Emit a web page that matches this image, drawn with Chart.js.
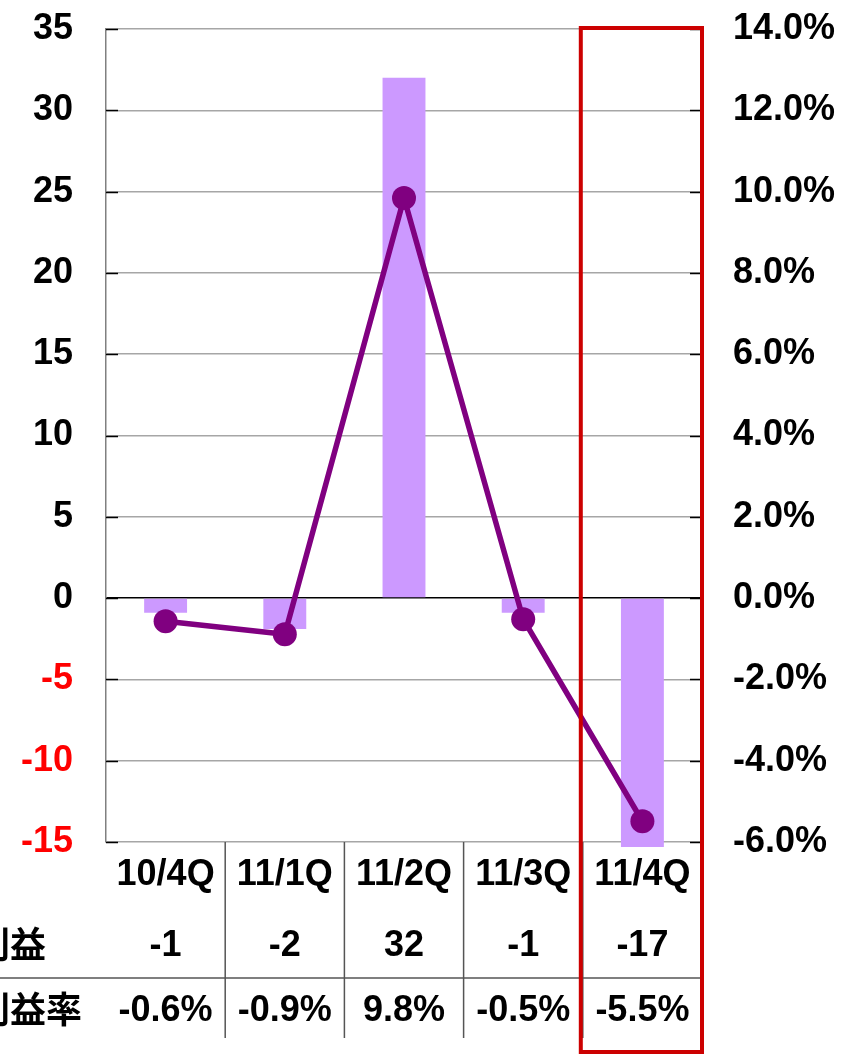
<!DOCTYPE html>
<html><head><meta charset="utf-8">
<script src="https://cdn.jsdelivr.net/npm/chart.js@4.4.1/dist/chart.umd.min.js"></script>
<style>html,body{margin:0;padding:0;background:#fff;}#c{display:block;}</style>
</head><body>
<canvas id="c" width="841" height="1056"></canvas>
<script>
const categories = ['10/4Q','11/1Q','11/2Q','11/3Q','11/4Q'];
const profitBars = [-0.9, -1.9, 32.0, -0.9, -15.3];
const marginLine = [-0.57, -0.89, 9.84, -0.52, -5.49];
const profitLabels = ['-1','-2','32','-1','-17'];
const marginLabels = ['-0.6%','-0.9%','9.8%','-0.5%','-5.5%'];
const rowTitles = ['営業利益','営業利益率'];
const highlightIndex = 4;

const FONT = 'bold 36px "Liberation Sans", Arial, sans-serif';
const CJK = 'bold 36px "Noto Sans CJK JP", sans-serif';

const tablePlugin = {
  id: 'tablePlugin',
  afterDraw(chart) {
    const ctx = chart.ctx, x = chart.scales.x, y = chart.scales.y, y1 = chart.scales.y1;
    const a = chart.chartArea;
    const step = (a.right - a.left) / categories.length;
    ctx.save();
    ctx.strokeStyle = '#000'; ctx.lineWidth = 1.5;
    y.ticks.forEach(t => { const py = Math.round(y.getPixelForValue(t.value)) + 0.5; ctx.beginPath(); ctx.moveTo(a.left, py); ctx.lineTo(a.left + 12, py); ctx.stroke(); });
    y1.ticks.forEach(t => { const py = Math.round(y1.getPixelForValue(t.value)) + 0.5; ctx.beginPath(); ctx.moveTo(a.right - 12, py); ctx.lineTo(a.right, py); ctx.stroke(); });
    ctx.strokeStyle = '#555'; ctx.lineWidth = 1.5;
    for (let i = 1; i < categories.length; i++) {
      const px = a.left + step * i;
      ctx.beginPath(); ctx.moveTo(px, a.bottom); ctx.lineTo(px, 1038); ctx.stroke();
    }
    ctx.beginPath(); ctx.moveTo(0, 978); ctx.lineTo(a.right, 978); ctx.stroke();
    ctx.fillStyle = '#000'; ctx.textAlign = 'center'; ctx.textBaseline = 'middle'; ctx.font = FONT;
    categories.forEach((c, i) => {
      const px = x.getPixelForValue(i);
      ctx.fillText(c, px, 875);
      ctx.fillText(profitLabels[i], px, 946);
      ctx.fillText(marginLabels[i], px, 1011);
    });
    ctx.font = CJK; ctx.textAlign = 'left';
    ctx.fillText(rowTitles[0], -98, 944);
    ctx.fillText(rowTitles[1], -98, 1009);
    ctx.strokeStyle = '#cc0000'; ctx.lineWidth = 4;
    const bx = a.left + step * highlightIndex - 2;
    ctx.strokeRect(bx, 28, a.right - bx, 1024);
    ctx.restore();
  }
};

function fitY(w) { return s => { s.width = w; s.paddingTop = 0; s.paddingBottom = 0; }; }

new Chart(document.getElementById('c'), {
  data: {
    labels: categories,
    datasets: [
      { type: 'line', data: marginLine, yAxisID: 'y1', borderColor: '#800080', backgroundColor: '#800080',
        borderWidth: 5.5, pointRadius: 12, pointBackgroundColor: '#800080', pointBorderWidth: 0, tension: 0, order: 0, clip: false },
      { type: 'bar', data: profitBars, yAxisID: 'y', backgroundColor: '#cc99ff', barPercentage: 0.36, categoryPercentage: 1, order: 1, clip: false }
    ]
  },
  options: {
    responsive: false, animation: false, devicePixelRatio: 1,
    layout: { padding: { top: 29, bottom: 0, left: 0, right: 0 } },
    plugins: { legend: { display: false }, tooltip: { enabled: false } },
    scales: {
      x: { type: 'category', ticks: { display: false }, grid: { display: false }, border: { display: false },
        afterFit: s => { s.height = 214; s.paddingLeft = 0; s.paddingRight = 0; } },
      y: { position: 'left', min: -15, max: 35, ticks: { stepSize: 5, padding: 33, font: { family: '"Liberation Sans", Arial', size: 36, weight: 'bold' },
          color: c => c.tick.value < 0 ? '#ff0000' : '#000' },
        grid: { drawTicks: false, color: c => c.tick.value === 0 ? '#000' : '#a6a6a6', lineWidth: 1.5 },
        border: { color: '#808080', width: 1.5 },
        afterFit: fitY(106) },
      y1: { position: 'right', min: -6, max: 14, ticks: { stepSize: 2, padding: 31, font: { family: '"Liberation Sans", Arial', size: 36, weight: 'bold' }, color: '#000',
          callback: v => v.toFixed(1) + '%' },
        grid: { drawOnChartArea: false, drawTicks: false },
        border: { color: '#000', width: 1.5 },
        afterFit: fitY(139) }
    }
  },
  plugins: [tablePlugin]
});
</script>
</body></html>
